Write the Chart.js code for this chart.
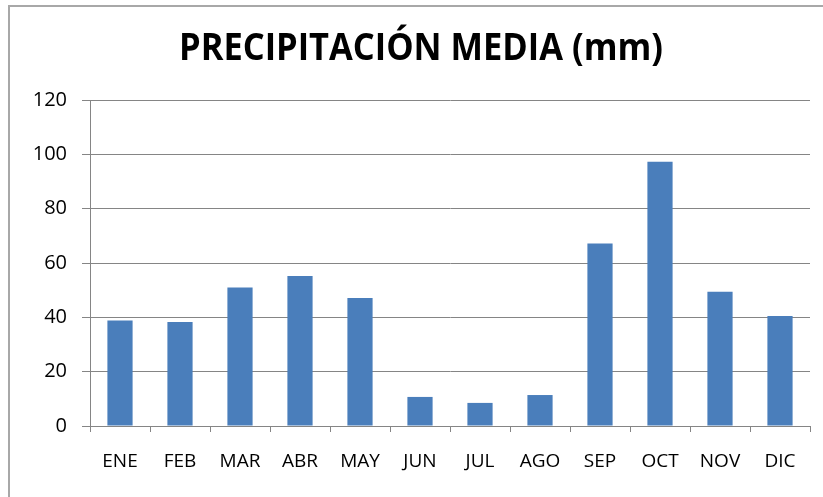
<!DOCTYPE html>
<html>
<head>
<meta charset="utf-8">
<script src="https://cdn.jsdelivr.net/npm/chart.js@4/dist/chart.umd.min.js"></script>
<style>
  html, body { margin: 0; padding: 0; background: #fff; }
  #wrap { position: relative; width: 823px; height: 497px; overflow: hidden; }
  #frame {
    position: absolute; left: 8px; top: 5px; right: -10px; bottom: -10px;
    border-top: 2px solid #a8a8a8; border-left: 2px solid #a8a8a8;
  }
  canvas { position: absolute; left: 0; top: 0; }
</style>
</head>
<body>
<div id="wrap">
  <div id="frame"></div>
  <canvas id="chart" width="823" height="497"></canvas>
</div>
<script>
// datos
const meses = ['ENE', 'FEB', 'MAR', 'ABR', 'MAY', 'JUN', 'JUL', 'AGO', 'SEP', 'OCT', 'NOV', 'DIC'];
const precipitacion = [38.8, 38.3, 51.0, 55.2, 47.1, 10.7, 8.5, 11.4, 67.2, 97.3, 49.4, 40.5];
const yMin = 0;
const yMax = 120;
const yStep = 20;
const titulo = 'PRECIPITACIÓN MEDIA (mm)';

const gris = '#858585';
const fuente = "'Open Sans', 'DejaVu Sans', sans-serif";

// título dibujado a mano para poder centrarlo donde está en el original
const tituloPlugin = {
  id: 'tituloPlugin',
  afterDraw(chart) {
    const ctx = chart.ctx;
    ctx.save();
    ctx.font = "bold 37px " + fuente;
    ctx.fillStyle = '#000';
    ctx.textAlign = 'center';
    ctx.textBaseline = 'middle';
    // el original usa una letra estrecha, se comprime al ancho leído
    ctx.fillText(titulo, 421, 49, 484);
    ctx.restore();
  }
};

new Chart(document.getElementById('chart'), {
  type: 'bar',
  data: {
    labels: meses,
    datasets: [{
      label: titulo,
      data: precipitacion,
      backgroundColor: '#4a7ebb',
      borderWidth: 0,
      categoryPercentage: 1,
      barPercentage: 0.42
    }]
  },
  options: {
    responsive: false,
    animation: false,
    devicePixelRatio: 1,
    layout: { padding: { left: 0, right: 13, top: 100, bottom: 0 } },
    plugins: {
      legend: { display: false },
      title: { display: false },
      tooltip: { enabled: false }
    },
    scales: {
      x: {
        grid: {
          display: true,
          drawOnChartArea: false,
          drawTicks: true,
          tickLength: 6,
          color: gris,
          offset: true
        },
        border: { display: true, color: gris, width: 1 },
        ticks: {
          color: '#000',
          padding: 18,
          font: { family: fuente, size: 19 }
        },
        afterFit(scale) { scale.height = 71; }
      },
      y: {
        min: yMin,
        max: yMax,
        grid: {
          color: gris,
          lineWidth: 1,
          tickLength: 8,
          drawTicks: true
        },
        border: { display: true, color: gris, width: 1 },
        ticks: {
          stepSize: yStep,
          color: '#000',
          padding: 15,
          font: { family: fuente, size: 20 }
        },
        afterFit(scale) { scale.width = 90; }
      }
    }
  },
  plugins: [tituloPlugin]
});
</script>
</body>
</html>
